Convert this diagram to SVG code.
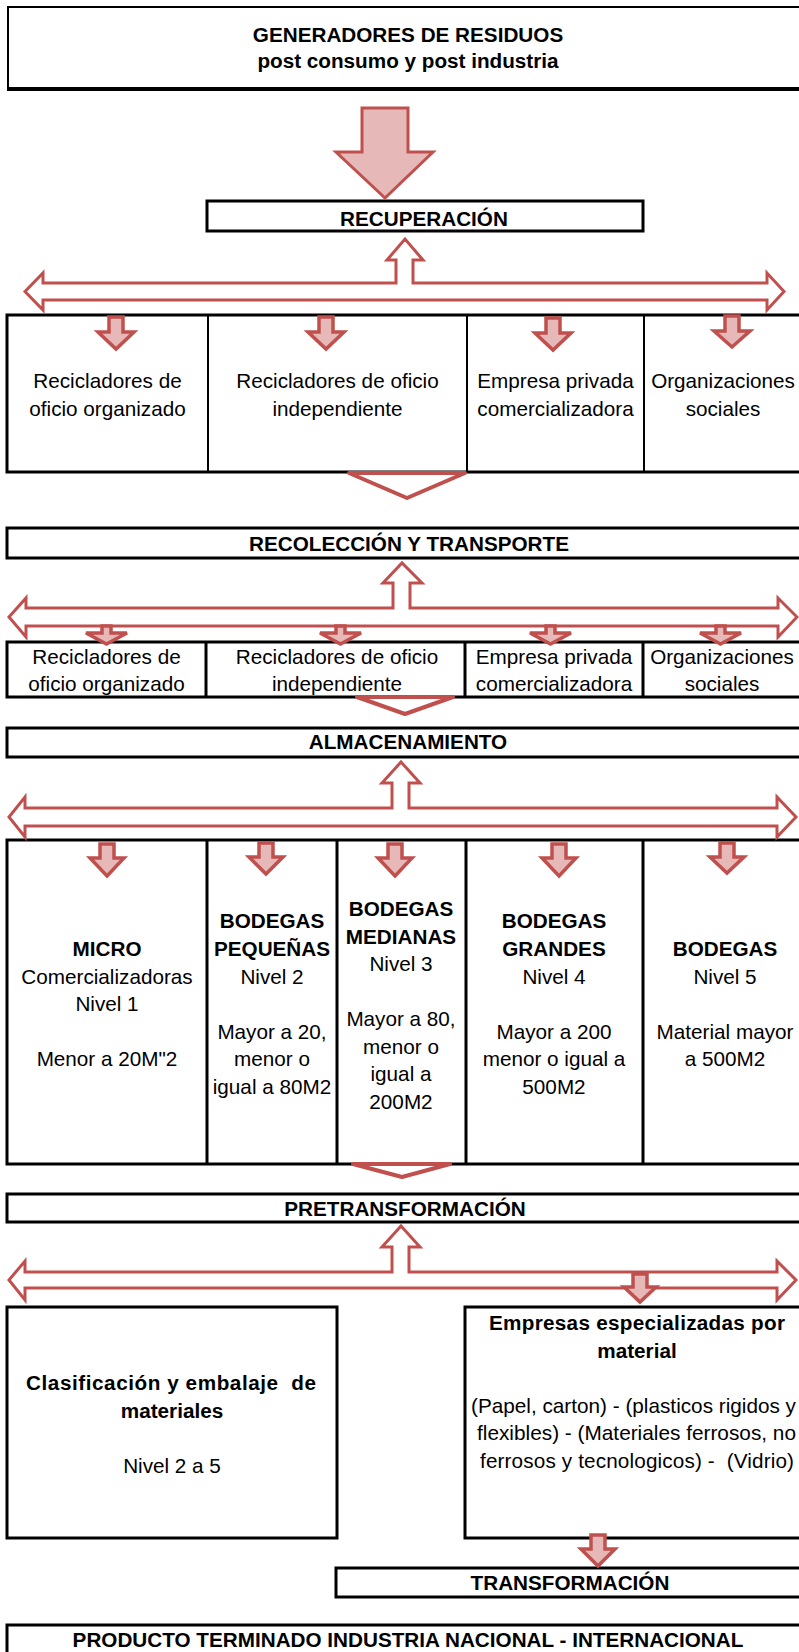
<svg xmlns="http://www.w3.org/2000/svg" width="799" height="1652" viewBox="0 0 799 1652">
<style>
text{font-family:"Liberation Sans",Arial,sans-serif;font-size:20.7px;fill:#000;text-anchor:middle}
.b{font-weight:bold}
.box{fill:#fff;stroke:#000;stroke-width:3}
.div{stroke:#000;stroke-width:3}
.thin{stroke:#000;stroke-width:2}
.dbl{fill:#fff;stroke:#C0504D;stroke-width:3;stroke-linejoin:miter}
.chev{fill:#fff;stroke:#C0504D;stroke-width:4;stroke-linejoin:round}
.sa{fill:#E6B9B8;stroke:#C0504D;stroke-width:3.5;stroke-linejoin:miter}
.big{fill:#E6B9B8;stroke:#C0504D;stroke-width:3}
</style>
<rect width="799" height="1652" fill="#fff"/>

<g id="generadores">
<rect x="8" y="7" width="810" height="82" fill="#fff" stroke="#000" stroke-width="2"/>
<line x1="7" y1="89" x2="818" y2="89" stroke="#000" stroke-width="4"/>
<text class="b" x="408" y="42">GENERADORES DE RESIDUOS</text>
<text class="b" x="408" y="68">post consumo y post industria</text>
</g>

<g id="recuperacion">
<rect class="box" x="207" y="201" width="436" height="30"/>
<text class="b" x="424" y="226">RECUPERACIÓN</text>
</g>

<g id="fila1">
<rect class="box" x="7" y="315" width="815" height="157"/>
<line class="thin" x1="208" y1="315" x2="208" y2="472"/>
<line class="thin" x1="467" y1="315" x2="467" y2="472"/>
<line class="thin" x1="644" y1="315" x2="644" y2="472"/>
<text x="107.5" y="388">Recicladores de</text>
<text x="107.5" y="416">oficio organizado</text>
<text x="337.5" y="388">Recicladores de oficio</text>
<text x="337.5" y="416">independiente</text>
<text x="555.5" y="388">Empresa privada</text>
<text x="555.5" y="416">comercializadora</text>
<text x="723" y="388">Organizaciones</text>
<text x="723" y="416">sociales</text>
</g>

<g id="recoleccion">
<rect class="box" x="7" y="528" width="815" height="30"/>
<text class="b" x="409" y="551">RECOLECCIÓN Y TRANSPORTE</text>
</g>

<g id="fila2">
<rect class="box" x="7" y="642" width="815" height="55"/>
<line class="div" x1="206" y1="642" x2="206" y2="697"/>
<line class="div" x1="465" y1="642" x2="465" y2="697"/>
<line class="div" x1="643" y1="642" x2="643" y2="697"/>
<text x="106.5" y="664">Recicladores de</text>
<text x="106.5" y="691">oficio organizado</text>
<text x="337" y="664">Recicladores de oficio</text>
<text x="337" y="691">independiente</text>
<text x="554" y="664">Empresa privada</text>
<text x="554" y="691">comercializadora</text>
<text x="722" y="664">Organizaciones</text>
<text x="722" y="691">sociales</text>
</g>

<g id="almacenamiento">
<rect class="box" x="7" y="728" width="815" height="29"/>
<text class="b" x="408" y="749">ALMACENAMIENTO</text>
</g>

<g id="fila3">
<rect class="box" x="7" y="840" width="815" height="324"/>
<line class="div" x1="207" y1="840" x2="207" y2="1164"/>
<line class="div" x1="337" y1="840" x2="337" y2="1164"/>
<line class="div" x1="466" y1="840" x2="466" y2="1164"/>
<line class="div" x1="643" y1="840" x2="643" y2="1164"/>
<text class="b" x="107" y="956">MICRO</text>
<text x="107" y="983.5">Comercializadoras</text>
<text x="107" y="1011">Nivel 1</text>
<text x="107" y="1066">Menor a 20M"2</text>
<text class="b" x="272" y="928">BODEGAS</text>
<text class="b" x="272" y="956">PEQUEÑAS</text>
<text x="272" y="983.5">Nivel 2</text>
<text x="272" y="1038.5">Mayor a 20,</text>
<text x="272" y="1066">menor o</text>
<text x="272" y="1093.5">igual a 80M2</text>
<text class="b" x="401" y="916">BODEGAS</text>
<text class="b" x="401" y="943.5">MEDIANAS</text>
<text x="401" y="971">Nivel 3</text>
<text x="401" y="1026">Mayor a 80,</text>
<text x="401" y="1053.5">menor o</text>
<text x="401" y="1081">igual a</text>
<text x="401" y="1108.5">200M2</text>
<text class="b" x="554" y="928">BODEGAS</text>
<text class="b" x="554" y="956">GRANDES</text>
<text x="554" y="983.5">Nivel 4</text>
<text x="554" y="1038.5">Mayor a 200</text>
<text x="554" y="1066">menor o igual a</text>
<text x="554" y="1093.5">500M2</text>
<text class="b" x="725" y="956">BODEGAS</text>
<text x="725" y="983.5">Nivel 5</text>
<text x="725" y="1038.5">Material mayor</text>
<text x="725" y="1066">a 500M2</text>
</g>

<g id="pretransformacion">
<rect class="box" x="7" y="1194" width="815" height="28"/>
<text class="b" x="405" y="1216">PRETRANSFORMACIÓN</text>
</g>

<g id="clasificacion">
<rect class="box" x="7" y="1307" width="330" height="231"/>
<text class="b" x="171" y="1390" xml:space="preserve" textLength="290" lengthAdjust="spacing">Clasificación y embalaje  de</text>
<text class="b" x="172" y="1417.5">materiales</text>
<text x="172" y="1472.5">Nivel 2 a 5</text>
</g>

<g id="empresas">
<rect class="box" x="465" y="1307" width="360" height="231"/>
<text class="b" x="637" y="1330" textLength="296" lengthAdjust="spacing">Empresas especializadas por</text>
<text class="b" x="637" y="1357.5">material</text>
<text x="633.5" y="1412.5" textLength="325" lengthAdjust="spacingAndGlyphs">(Papel, carton) - (plasticos rigidos y</text>
<text x="636.5" y="1440" textLength="319" lengthAdjust="spacingAndGlyphs">flexibles) - (Materiales ferrosos, no</text>
<text x="637" y="1467.5" xml:space="preserve" textLength="314" lengthAdjust="spacing">ferrosos y tecnologicos) -  (Vidrio)</text>
</g>

<g id="transformacion">
<rect class="box" x="336" y="1568" width="480" height="29"/>
<text class="b" x="570" y="1590">TRANSFORMACIÓN</text>
</g>

<g id="producto">
<rect class="box" x="7" y="1625" width="815" height="40"/>
<text class="b" x="408" y="1647">PRODUCTO TERMINADO INDUSTRIA NACIONAL - INTERNACIONAL</text>
</g>

<g id="connectors">
<polygon class="big" points="362,108 408,108 408,152 433,152 385,198 336,152 362,152"/>

<polygon class="dbl" points="25,291.5 43,273 43,283 396,283 396,260 387,260 405,239 423,260 413,260 413,283 767,283 767,273 784,291.5 767,310 767,300 43,300 43,310"/>
<polygon class="sa" points="109,317 123,317 123,332 134,332 116,349 98,332 109,332"/>
<polygon class="sa" points="319,317 333,317 333,332 344,332 326,349 308,332 319,332"/>
<polygon class="sa" points="546,318 560,318 560,333 571,333 553,350 535,333 546,333"/>
<polygon class="sa" points="725,316 739,316 739,331 750,331 732,347 714,331 725,331"/>
<polygon class="chev" points="349,473 465,473 407,498"/>

<polygon class="dbl" points="9,617 26,598 26,608 393,608 393,583 383,583 402,563 422,583 410,583 410,608 778,608 778,598 797,617 778,637 778,626 26,626 26,637"/>
<polygon class="sa" points="102,626 111,626 111,633 127,633 106.5,644 86,633 102,633"/>
<polygon class="sa" points="336,626 345,626 345,633 361,633 340.5,644 320,633 336,633"/>
<polygon class="sa" points="546,626 555,626 555,633 571,633 550.5,644 530,633 546,633"/>
<polygon class="sa" points="716,626 725,626 725,633 741,633 720.5,644 700,633 716,633"/>
<polygon class="chev" points="357,697 453,697 405,714"/>

<polygon class="dbl" points="9,817 25,797 25,808 392,808 392,783 382,783 401,762 420,783 409,783 409,808 777,808 777,797 796,817 777,837 777,826 25,826 25,837"/>
<polygon class="sa" points="100,844 114,844 114,858 124,858 107,876 90,858 100,858"/>
<polygon class="sa" points="259,843 273,843 273,857 283,857 266,874 249,857 259,857"/>
<polygon class="sa" points="388,844 402,844 402,858 412,858 395,876 378,858 388,858"/>
<polygon class="sa" points="552,844 566,844 566,858 576,858 559,876 542,858 552,858"/>
<polygon class="sa" points="720,843 734,843 734,857 744,857 727,873 710,857 720,857"/>
<polygon class="chev" points="353,1164 450,1164 402,1177"/>

<polygon class="dbl" points="9,1280 25,1261 25,1272 392,1272 392,1247 382,1247 401,1226 420,1247 409,1247 409,1272 777,1272 777,1261 796,1280 777,1300 777,1288 25,1288 25,1300"/>
<polygon class="sa" points="633,1274 647,1274 647,1287 656,1287 640,1302 624,1287 633,1287"/>

<polygon class="sa" points="591,1535 605,1535 605,1549 615,1549 598,1566 581,1549 591,1549"/>
</g>
</svg>
